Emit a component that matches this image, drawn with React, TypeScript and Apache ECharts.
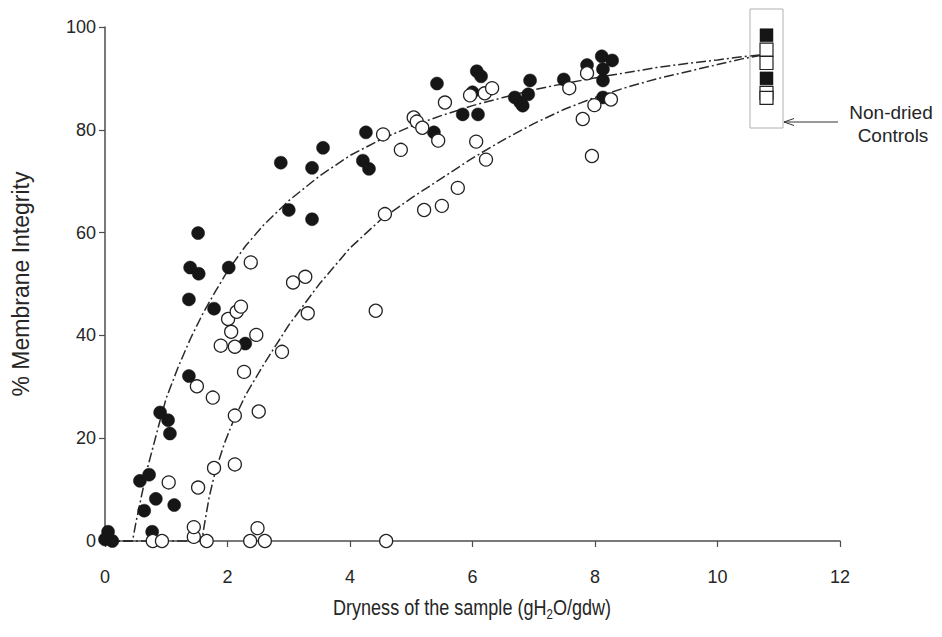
import React, { useEffect, useRef } from "react";
import * as echarts from "echarts";

// Dried samples: filled circles
const filledPoints: number[][] = [
  [0.0, 0.3], [0.05, 1.8], [0.12, 0],
  [0.57, 11.7], [0.64, 5.9], [0.72, 12.9], [0.77, 1.8], [0.83, 8.2], [0.9, 25.0], [1.03, 23.5], [1.06, 20.9], [1.13, 7.0],
  [1.37, 32.1], [1.37, 47.0], [1.39, 53.2], [1.52, 59.9], [1.53, 52.0], [1.78, 45.2], [2.02, 53.2], [2.29, 38.4],
  [2.87, 73.6], [3.0, 64.4], [3.38, 72.6], [3.38, 62.6], [3.56, 76.5], [4.21, 74.0], [4.26, 79.5], [4.31, 72.4],
  [5.37, 79.5], [5.42, 89.0], [5.84, 83.0], [6.0, 87.3], [6.07, 91.4], [6.14, 90.4], [6.09, 83.0],
  [6.69, 86.3], [6.78, 85.3], [6.82, 84.7], [6.91, 86.9], [6.94, 89.6], [7.49, 89.8], [7.87, 92.6],
  [8.11, 94.3], [8.28, 93.5], [8.13, 91.8], [8.13, 89.6], [8.13, 86.3],
];

// Dried samples: open circles
const openPoints: number[][] = [
  [0.78, 0], [0.93, 0], [1.04, 11.4], [1.45, 0.8], [1.45, 2.7], [1.5, 30.1], [1.52, 10.4], [1.66, 0], [1.76, 27.9], [1.78, 14.2],
  [1.89, 38.0], [2.01, 43.2], [2.06, 40.7], [2.12, 37.8], [2.12, 24.4], [2.12, 14.9], [2.15, 44.6], [2.22, 45.6], [2.27, 32.9],
  [2.37, 0], [2.38, 54.2], [2.47, 40.1], [2.49, 2.5], [2.51, 25.2], [2.61, 0], [2.89, 36.8],
  [3.07, 50.3], [3.27, 51.4], [3.31, 44.3], [4.42, 44.8], [4.54, 79.1], [4.57, 63.6], [4.59, 0], [4.83, 76.1],
  [5.04, 82.4], [5.09, 81.6], [5.18, 80.4], [5.21, 64.4], [5.44, 77.9], [5.5, 65.2], [5.55, 85.3], [5.76, 68.7],
  [5.96, 86.7], [6.06, 77.7], [6.2, 87.1], [6.22, 74.2], [6.32, 88.1], [7.58, 88.1], [7.8, 82.1], [7.87, 91.0],
  [7.95, 74.9], [7.99, 84.8], [8.26, 85.9],
];

// Non-dried controls
const controlFilled: number[][] = [[10.8, 98.4], [10.8, 90.0]];
const controlOpen: number[][] = [[10.8, 95.6], [10.8, 93.0], [10.8, 87.2], [10.8, 86.2]];

// Fitted curves
const fitFilled: number[][] = [
  [0, 0], [0.45, 0], [0.5, 3.3], [0.6, 9], [0.7, 14.5], [0.8, 19], [0.9, 23.5], [1.0, 27.8], [1.2, 34],
  [1.4, 39.5], [1.6, 44.3], [1.8, 48.5], [2.0, 52.5], [2.3, 57.5], [2.6, 61.6], [3.0, 66.2], [3.5, 71],
  [4.0, 75], [4.5, 78.1], [5.0, 80.7], [5.5, 82.8], [6.0, 84.7], [6.5, 86.3], [7.0, 87.8], [7.5, 89],
  [8.0, 90.1], [8.5, 91.1], [9.0, 92.1], [9.5, 92.9], [10.0, 93.6], [10.4, 94.2], [10.8, 94.7],
];
const fitOpen: number[][] = [
  [0, 0], [1.58, 0], [1.62, 3], [1.7, 8.5], [1.8, 13.5], [1.95, 19], [2.1, 23.5], [2.3, 28.5], [2.6, 34.5],
  [3.0, 42], [3.5, 50], [4.0, 57], [4.5, 62.5], [5.0, 66.7], [5.5, 70.6], [6.0, 74.5], [6.5, 78], [7.0, 81.2],
  [7.5, 84], [8.0, 86.3], [8.5, 88.2], [9.0, 89.9], [9.5, 91.3], [10.0, 92.7], [10.4, 93.8], [10.8, 94.7],
];

const FONT = "'Liberation Sans', Arial, sans-serif";
const TEXT = "#262626";

export default function App() {
  const ref = useRef<HTMLDivElement>(null);
  useEffect(() => {
    if (!ref.current) return;
    const chart = echarts.init(ref.current, null, { renderer: "svg" });
    const dash = [10, 3, 2, 3];
    chart.setOption({
      animation: false,
      backgroundColor: "#fff",
      grid: { left: 105, right: 102, top: 27, bottom: 96, containLabel: false },
      xAxis: {
        type: "value",
        min: 0,
        max: 12,
        interval: 2,
        axisLine: { show: true, onZero: false, lineStyle: { color: "#4d4d4d", width: 1.5 } },
        axisTick: { show: true, length: 6, lineStyle: { color: "#4d4d4d", width: 1.2 } },
        axisLabel: { fontFamily: FONT, fontSize: 18, color: TEXT, margin: 27 },
        splitLine: { show: false },
      },
      yAxis: {
        type: "value",
        min: 0,
        max: 100,
        interval: 20,
        name: "% Membrane Integrity",
        nameLocation: "middle",
        nameGap: 73,
        nameTextStyle: { fontFamily: FONT, fontSize: 23, color: TEXT },
        axisLine: { show: true, onZero: false, lineStyle: { color: "#4d4d4d", width: 1.5 } },
        axisTick: { show: true, length: 6, lineStyle: { color: "#4d4d4d", width: 1.2 } },
        axisLabel: { fontFamily: FONT, fontSize: 18, color: TEXT, margin: 9 },
        splitLine: { show: false },
      },
      series: [
        {
          type: "line",
          data: fitFilled,
          symbol: "none",
          smooth: false,
          lineStyle: { color: "#2a2a2a", width: 1.5, type: dash },
          z: 1,
          clip: false,
        },
        {
          type: "line",
          data: fitOpen,
          symbol: "none",
          smooth: false,
          lineStyle: { color: "#2a2a2a", width: 1.5, type: dash },
          z: 1,
          clip: false,
        },
        {
          type: "scatter",
          data: filledPoints,
          symbol: "circle",
          symbolSize: 13,
          itemStyle: { color: "#161616", borderColor: "#161616", borderWidth: 0.5, opacity: 1 },
          z: 3,
          clip: false,
        },
        {
          type: "scatter",
          data: openPoints,
          symbol: "circle",
          symbolSize: 13,
          itemStyle: { color: "#ffffff", borderColor: "#222", borderWidth: 1.3, opacity: 1 },
          z: 4,
          clip: false,
        },
        {
          type: "scatter",
          data: controlFilled,
          symbol: "rect",
          symbolSize: 13,
          itemStyle: { color: "#161616", borderColor: "#161616", borderWidth: 0.5, opacity: 1 },
          z: 3,
          clip: false,
        },
        {
          type: "scatter",
          data: controlOpen,
          symbol: "rect",
          symbolSize: 13,
          itemStyle: { color: "#ffffff", borderColor: "#222", borderWidth: 1.2, opacity: 1 },
          z: 4,
          clip: false,
        },
      ],
      graphic: [
        {
          type: "text",
          x: 472,
          y: 607,
          scaleX: 0.82,
          style: {
            text: "{a|Dryness of the sample (gH}{s|2}{a|O/gdw)}",
            fill: TEXT,
            textAlign: "center",
            textVerticalAlign: "middle",
            rich: {
              a: { fontFamily: FONT, fontSize: 22, fill: TEXT },
              s: { fontFamily: FONT, fontSize: 14, fill: TEXT, padding: [14, 0, 0, 0] },
            },
          },
          z: 10,
        },
        {
          type: "rect",
          shape: { x: 750, y: 9, width: 33, height: 119 },
          style: { fill: "none", stroke: "#b0b0b0", lineWidth: 1 },
          z: 10,
        },
        {
          type: "line",
          shape: { x1: 784, y1: 122, x2: 838, y2: 122 },
          style: { stroke: "#333", lineWidth: 1 },
          z: 10,
        },
        {
          type: "polyline",
          shape: { points: [[794, 118.5], [784, 122], [794, 125.5]] },
          style: { stroke: "#333", lineWidth: 1, fill: "none" },
          z: 10,
        },
        {
          type: "text",
          x: 891,
          y: 112,
          style: { text: "Non-dried", font: `19px ${FONT}`, fill: TEXT, textAlign: "center", textVerticalAlign: "middle" },
          z: 10,
        },
        {
          type: "text",
          x: 893,
          y: 135,
          style: { text: "Controls", font: `19px ${FONT}`, fill: TEXT, textAlign: "center", textVerticalAlign: "middle" },
          z: 10,
        },
      ],
    });
    return () => chart.dispose();
  }, []);
  return <div ref={ref} style={{ position: "fixed", left: 0, top: 0, width: 942, height: 637 }} />;
}
